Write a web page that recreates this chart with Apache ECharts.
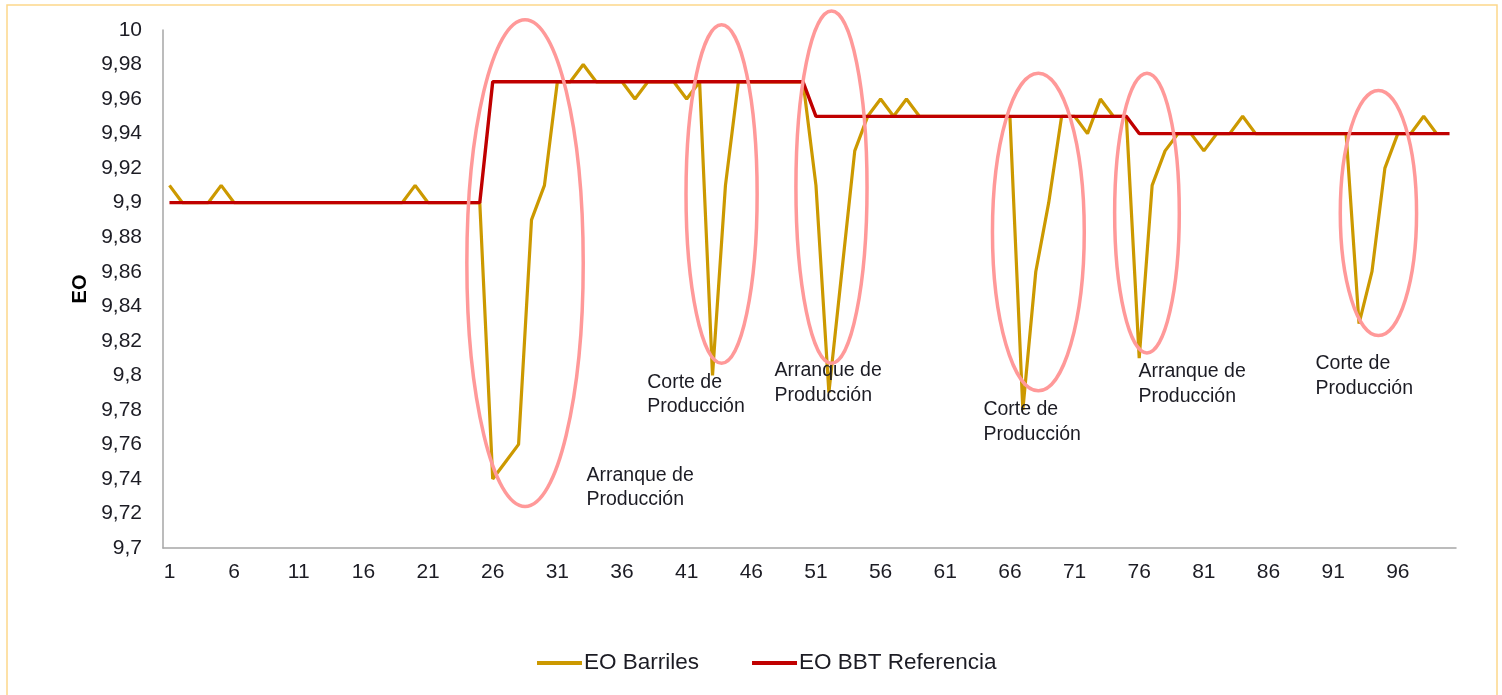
<!DOCTYPE html>
<html>
<head>
<meta charset="utf-8">
<script src="https://cdn.jsdelivr.net/npm/echarts@6/dist/echarts.min.js"></script>
<style>
  html, body { margin: 0; padding: 0; background: #ffffff; }
  #chart { width: 1502px; height: 695px; }
</style>
</head>
<body>
<div id="chart"></div>
<script>
// Categories 1..100 (sample number)
const categories = [];
for (let i = 1; i <= 100; i++) categories.push(String(i));

// EO Barriles, measured values
const eoBarriles = [
  9.91, 9.90, 9.90, 9.90, 9.91, 9.90, 9.90, 9.90, 9.90, 9.90,
  9.90, 9.90, 9.90, 9.90, 9.90, 9.90, 9.90, 9.90, 9.90, 9.91,
  9.90, 9.90, 9.90, 9.90, 9.90, 9.74, 9.75, 9.76, 9.89, 9.91,
  9.97, 9.97, 9.98, 9.97, 9.97, 9.97, 9.96, 9.97, 9.97, 9.97,
  9.96, 9.97, 9.80, 9.91, 9.97, 9.97, 9.97, 9.97, 9.97, 9.97,
  9.91, 9.79, 9.86, 9.93, 9.95, 9.96, 9.95, 9.96, 9.95, 9.95,
  9.95, 9.95, 9.95, 9.95, 9.95, 9.95, 9.78, 9.86, 9.90, 9.95,
  9.95, 9.94, 9.96, 9.95, 9.95, 9.81, 9.91, 9.93, 9.94, 9.94,
  9.93, 9.94, 9.94, 9.95, 9.94, 9.94, 9.94, 9.94, 9.94, 9.94,
  9.94, 9.94, 9.83, 9.86, 9.92, 9.94, 9.94, 9.95, 9.94
];

// EO BBT Referencia, reference level
const eoReferencia = [
  9.90, 9.90, 9.90, 9.90, 9.90, 9.90, 9.90, 9.90, 9.90, 9.90,
  9.90, 9.90, 9.90, 9.90, 9.90, 9.90, 9.90, 9.90, 9.90, 9.90,
  9.90, 9.90, 9.90, 9.90, 9.90, 9.97, 9.97, 9.97, 9.97, 9.97,
  9.97, 9.97, 9.97, 9.97, 9.97, 9.97, 9.97, 9.97, 9.97, 9.97,
  9.97, 9.97, 9.97, 9.97, 9.97, 9.97, 9.97, 9.97, 9.97, 9.97,
  9.95, 9.95, 9.95, 9.95, 9.95, 9.95, 9.95, 9.95, 9.95, 9.95,
  9.95, 9.95, 9.95, 9.95, 9.95, 9.95, 9.95, 9.95, 9.95, 9.95,
  9.95, 9.95, 9.95, 9.95, 9.95, 9.94, 9.94, 9.94, 9.94, 9.94,
  9.94, 9.94, 9.94, 9.94, 9.94, 9.94, 9.94, 9.94, 9.94, 9.94,
  9.94, 9.94, 9.94, 9.94, 9.94, 9.94, 9.94, 9.94, 9.94, 9.94
];

// Highlighted events: [category centre, value centre, half-width (categories), half-height (value)]
const eventEllipses = [
  [28.5, 9.865, 4.5, 0.141],
  [43.7, 9.905, 2.75, 0.098],
  [52.2, 9.909, 2.75, 0.102],
  [68.2, 9.883, 3.55, 0.092],
  [76.6, 9.894, 2.5, 0.081],
  [94.5, 9.894, 2.95, 0.071]
];

// Event captions: [category at left edge, value at first line, text]
const eventLabels = [
  [33.25, 9.742, 'Arranque de\nProducción'],
  [37.95, 9.796, 'Corte de\nProducción'],
  [47.79, 9.8025, 'Arranque de\nProducción'],
  [63.95, 9.780, 'Corte de\nProducción'],
  [75.94, 9.802, 'Arranque de\nProducción'],
  [89.63, 9.8066, 'Corte de\nProducción']
];

const FONT = "'Liberation Sans', Arial, sans-serif";
const TEXT_COLOR = '#1c1c24';

const chart = echarts.init(document.getElementById('chart'), null, { renderer: 'canvas' });

const option = {
  animation: false,
  backgroundColor: '#ffffff',
  grid: { left: 163, right: 46, top: 30, bottom: 147, containLabel: false },
  legend: {
    left: 537,
    top: 651,
    padding: 0,
    itemGap: 53,
    itemWidth: 45,
    itemHeight: 4,
    icon: 'rect',
    textStyle: {
      fontFamily: FONT, fontSize: 22.5, lineHeight: 24,
      color: TEXT_COLOR, padding: [0, 0, 0, -3]
    },
    data: ['EO Barriles', 'EO BBT Referencia']
  },
  xAxis: {
    type: 'category',
    data: categories,
    boundaryGap: true,
    axisLine: { lineStyle: { color: '#a6a6a6', width: 1.5 } },
    axisTick: { show: false },
    axisLabel: {
      interval: 4,
      margin: 14,
      fontFamily: FONT,
      fontSize: 21,
      color: TEXT_COLOR
    },
    splitLine: { show: false }
  },
  yAxis: {
    type: 'value',
    min: 9.7,
    max: 10,
    interval: 0.02,
    name: 'EO',
    nameLocation: 'middle',
    nameRotate: 90,
    nameGap: 73,
    nameTextStyle: { fontFamily: FONT, fontSize: 20, fontWeight: 'bold', color: '#000000' },
    axisLine: { show: true, lineStyle: { color: '#a6a6a6', width: 1.5 } },
    axisTick: { show: false },
    splitLine: { show: false },
    axisLabel: {
      margin: 21,
      fontFamily: FONT,
      fontSize: 21,
      color: TEXT_COLOR,
      formatter: function (v) {
        return String(Math.round(v * 100) / 100).replace('.', ',');
      }
    }
  },
  series: [
    {
      name: 'EO Barriles',
      type: 'line',
      data: eoBarriles,
      symbol: 'none',
      lineStyle: { color: '#CC9900', width: 3.2 },
      itemStyle: { color: '#CC9900' },
      z: 2
    },
    {
      name: 'EO BBT Referencia',
      type: 'line',
      data: eoReferencia,
      symbol: 'none',
      lineStyle: { color: '#C00000', width: 3.4 },
      itemStyle: { color: '#C00000' },
      z: 3
    }
  ]
};

chart.setOption(option);

// Map data coordinates to pixels for the annotation layer
const x0 = chart.convertToPixel({ xAxisIndex: 0 }, 0);
const xStep = chart.convertToPixel({ xAxisIndex: 0 }, 1) - x0;
const px = c => x0 + (c - 1) * xStep;
const py = v => chart.convertToPixel({ yAxisIndex: 0 }, v);

const LINE_H = 24.5;
const graphics = [
  // light frame around the whole figure
  {
    type: 'rect',
    shape: { x: 7, y: 5, width: 1490, height: 700 },
    style: { fill: 'none', stroke: '#FDD88A', lineWidth: 1.5 },
    z: 0
  }
];

eventEllipses.forEach(([c, v, hw, hh]) => {
  const cx = px(c), cy = py(v);
  graphics.push({
    type: 'ellipse',
    shape: { cx: cx, cy: cy, rx: px(c + hw) - cx, ry: py(v - hh) - cy },
    style: { fill: 'none', stroke: '#FF9999', lineWidth: 3.5 },
    z: 10
  });
});

eventLabels.forEach(([c, v, text]) => {
  graphics.push({
    type: 'text',
    x: px(c),
    y: py(v) - LINE_H / 2,
    style: {
      text: text,
      fontFamily: FONT,
      fontSize: 19.5,
      lineHeight: LINE_H,
      fill: TEXT_COLOR,
      align: 'left',
      verticalAlign: 'top'
    },
    z: 11
  });
});

chart.setOption({ graphic: graphics });
</script>
</body>
</html>
